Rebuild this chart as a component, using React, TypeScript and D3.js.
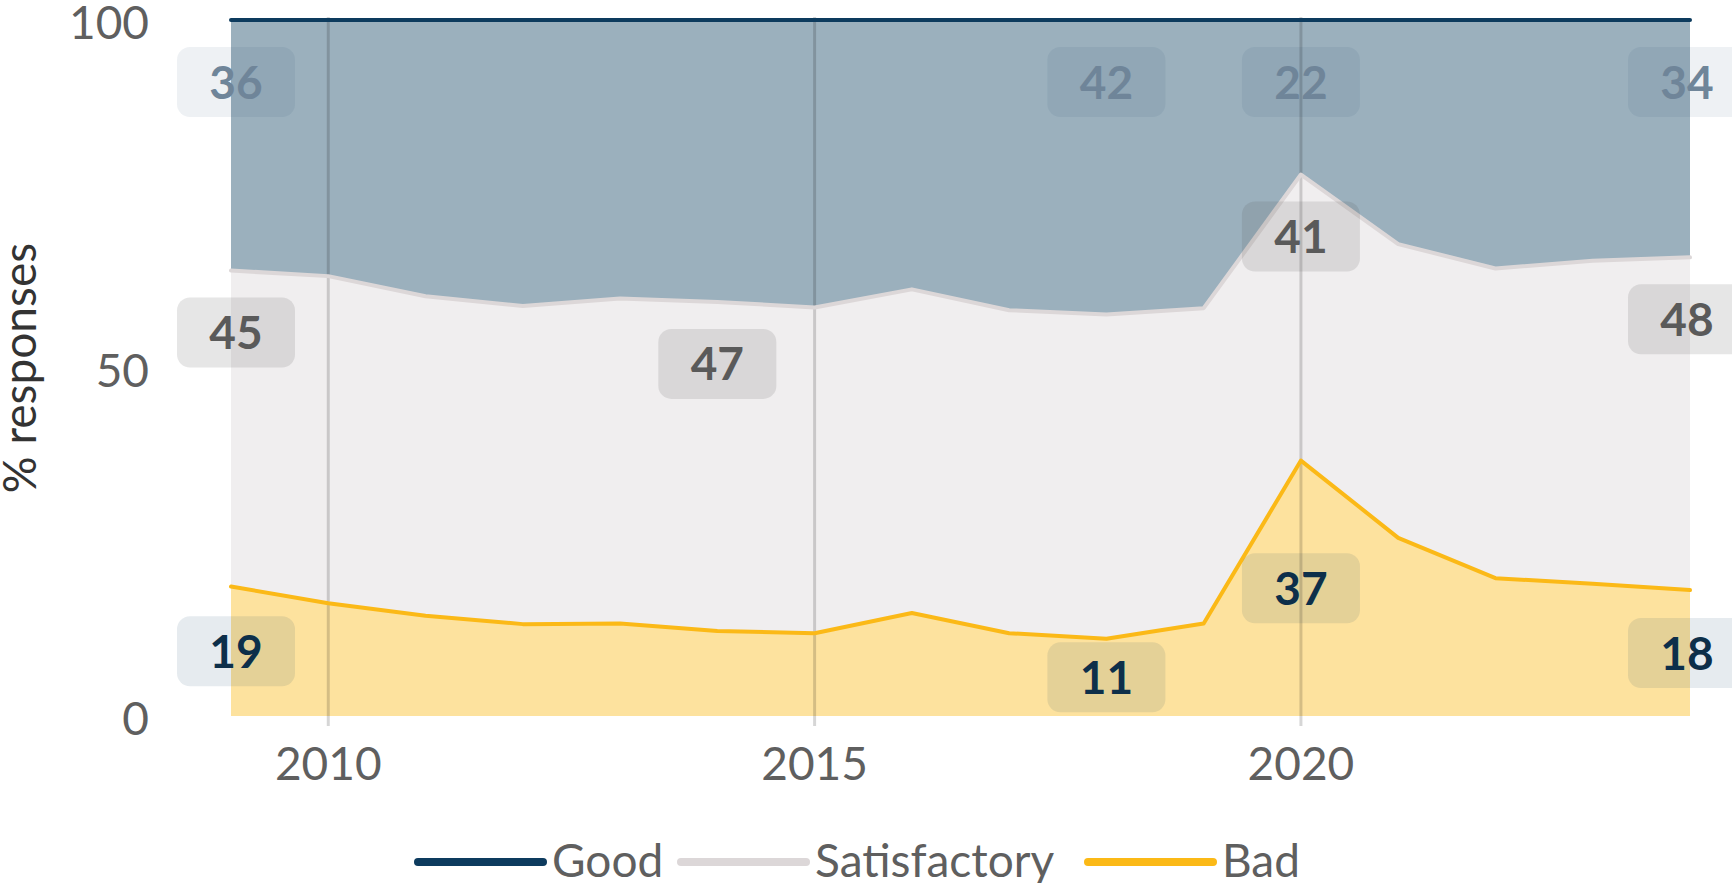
import React from 'react';
import * as d3 from 'd3';

const years = [2009, 2010, 2011, 2012, 2013, 2014, 2015, 2016, 2017, 2018, 2019, 2020, 2021, 2022, 2023, 2024];
const bad = [18.6, 16.2, 14.4, 13.2, 13.3, 12.2, 11.9, 14.8, 11.9, 11.1, 13.3, 36.7, 25.6, 19.8, 19.0, 18.1];
const satisfactory = [45.4, 47.0, 45.9, 45.7, 46.7, 47.3, 46.8, 46.5, 46.4, 46.6, 45.3, 41.1, 42.2, 44.5, 46.4, 47.8];
const good = years.map((_, i) => +(100 - bad[i] - satisfactory[i]).toFixed(1));

const yTicks = [0, 50, 100];
const xTicks = [2010, 2015, 2020];

const goodLabelYears = [2009, 2018, 2020, 2024];
const satLabelYears = [2009, 2014, 2020, 2024];
const badLabelYears = [2009, 2018, 2020, 2024];

const width = 1732;
const height = 883;
const margin = { top: 20, right: 42, bottom: 167, left: 231 };
const font = 'Lato, "Open Sans", sans-serif';

const series = [
  { key: 'bad', name: 'Bad', line: '#fbb917', fill: '#fde29e' },
  { key: 'satisfactory', name: 'Satisfactory', line: '#dcd7d8', fill: '#f0eeef' },
  { key: 'good', name: 'Good', line: '#0d3b5e', fill: '#9bb0bd' },
];

export default function App() {
  const table = years.map((year, i) => ({ year, bad: bad[i], satisfactory: satisfactory[i], good: good[i] }));
  const stacked = d3.stack<any>().keys(series.map(s => s.key))(table);

  const x = d3.scaleLinear().domain([2009, 2024]).range([margin.left, width - margin.right]);
  const y = d3.scaleLinear().domain([0, 100]).range([height - margin.bottom, margin.top]);

  const area = d3.area<any>().x(d => x(d.data.year)).y0(d => y(d[0])).y1(d => y(d[1]));
  const line = d3.line<any>().x(d => x(d.data.year)).y(d => y(d[1]));

  const boxW = 118;
  const boxH = 70;

  // labels at the ends get pushed a little inward
  const nudge = (yr: number) => (yr === years[0] ? 5 : yr === years[years.length - 1] ? -3 : 0);

  const labelFor = (key: string, yr: number) => {
    const i = years.indexOf(yr);
    const layer = stacked.find(s => s.key === key)!;
    const pt = layer[i];
    const value = pt[1] - pt[0];
    const cy = key === 'bad' ? y(value / 2) : y(pt[1]) + 62;
    return { cx: x(yr) + nudge(yr), cy, text: String(Math.round(value)) };
  };

  const labelStyles: Record<string, { box: string; text: string; years: number[] }> = {
    good: { box: 'rgba(13,59,94,0.07)', text: '#6f8599', years: goodLabelYears },
    satisfactory: { box: 'rgba(90,90,90,0.15)', text: '#5a5a5a', years: satLabelYears },
    bad: { box: 'rgba(13,59,94,0.10)', text: '#0d2f4a', years: badLabelYears },
  };

  const legendItems = [
    { name: 'Good', color: '#0d3b5e', x0: 418 },
    { name: 'Satisfactory', color: '#dcd7d8', x0: 681 },
    { name: 'Bad', color: '#fbb917', x0: 1088 },
  ];
  const legendY = 862;

  return (
    <>
      <style>{`body{margin:0;overflow:hidden}`}</style>
      <svg width={width} height={height} style={{ display: 'block', background: '#fff' }} fontFamily={font}>
        {stacked.map((layer, i) => (
          <path key={layer.key} d={area(layer) || ''} fill={series[i].fill} />
        ))}
        {xTicks.map(t => (
          <line key={t} x1={x(t)} x2={x(t)} y1={margin.top - 3} y2={height - margin.bottom + 10}
            stroke="rgba(0,0,0,0.16)" strokeWidth={3} />
        ))}
        {stacked.map((layer, i) => (
          <path key={layer.key + '-l'} d={line(layer) || ''} fill="none" stroke={series[i].line}
            strokeWidth={4} strokeLinejoin="round" strokeLinecap="round" />
        ))}
        {series.map(s => {
          const st = labelStyles[s.key];
          return st.years.map(yr => {
            const l = labelFor(s.key, yr);
            return (
              <g key={s.key + yr}>
                <rect x={l.cx - boxW / 2} y={l.cy - boxH / 2} width={boxW} height={boxH} rx={13} fill={st.box} />
                <text x={l.cx} y={l.cy} dy="0.36em" textAnchor="middle" fontWeight="bold" fontSize={46} fill={st.text}>
                  {l.text}
                </text>
              </g>
            );
          });
        })}
        {yTicks.map(t => (
          <text key={t} x={149} y={y(t) + 2} dy="0.36em" textAnchor="end" fontSize={46} fill="#5f5f5f">{t}</text>
        ))}
        {xTicks.map(t => (
          <text key={t} x={x(t)} y={780} textAnchor="middle" fontSize={46} fill="#5f5f5f">{t}</text>
        ))}
        <text transform={`translate(36,${(margin.top + height - margin.bottom) / 2}) rotate(-90)`}
          textAnchor="middle" fontSize={46} fill="#333">% responses</text>
        {legendItems.map(item => (
          <g key={item.name}>
            <line x1={item.x0} x2={item.x0 + 125} y1={legendY} y2={legendY} stroke={item.color}
              strokeWidth={8} strokeLinecap="round" />
            <text x={item.x0 + 134} y={legendY + 15} fontSize={46} fill="#5f5f5f">{item.name}</text>
          </g>
        ))}
      </svg>
    </>
  );
}
